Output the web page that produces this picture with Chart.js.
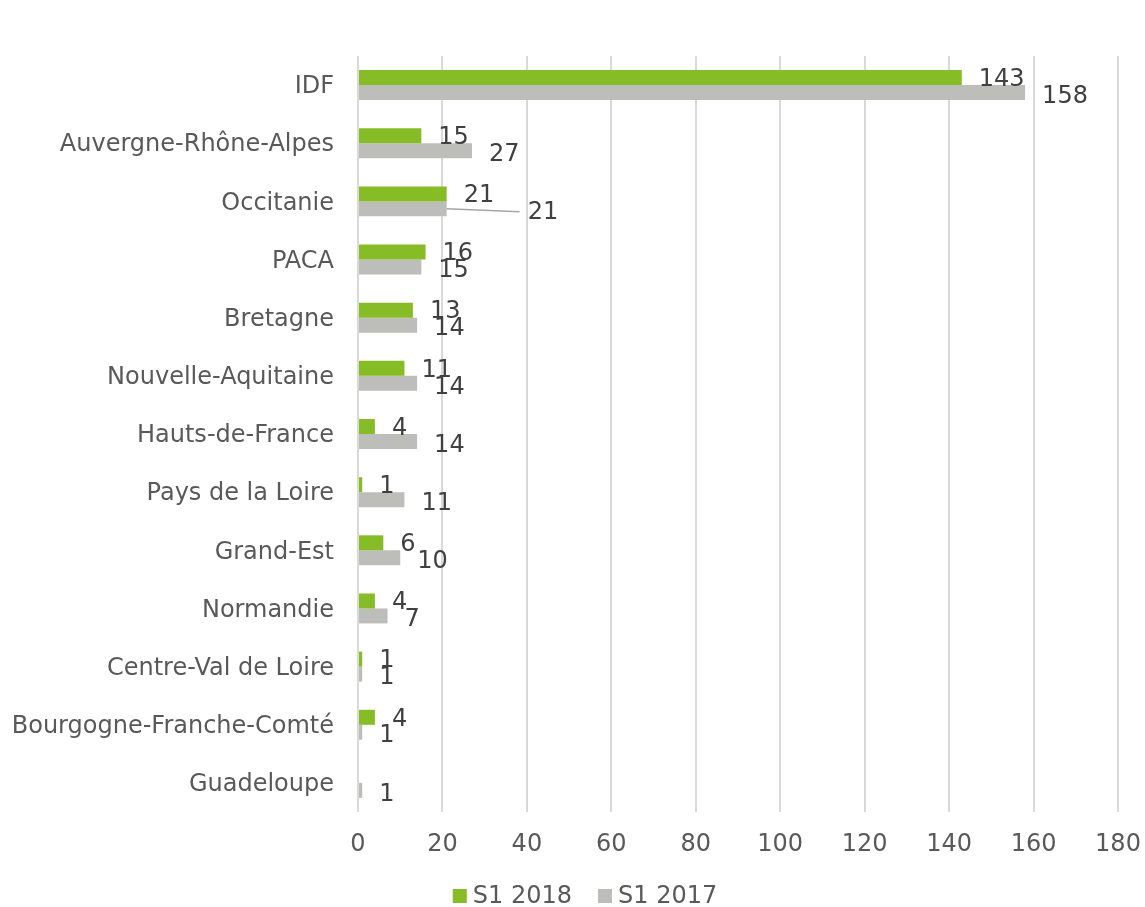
<!DOCTYPE html>
<html>
<head>
<meta charset="utf-8">
<script src="https://cdn.jsdelivr.net/npm/chart.js@4/dist/chart.umd.min.js"></script>
<style>
html,body{margin:0;padding:0;background:#fff;}
#wrap{width:1145px;height:907px;position:relative;}
</style>
</head>
<body>
<div id="wrap"><canvas id="c" width="1145" height="907"></canvas></div>
<script>
const categories = ["IDF","Auvergne-Rhône-Alpes","Occitanie","PACA","Bretagne","Nouvelle-Aquitaine","Hauts-de-France","Pays de la Loire","Grand-Est","Normandie","Centre-Val de Loire","Bourgogne-Franche-Comté","Guadeloupe"];
const s2018 = [143,15,21,16,13,11,4,1,6,4,1,4,null];
const s2017 = [158,27,21,15,14,14,14,11,10,7,1,1,1];
const seriesNames = ["S1 2018","S1 2017"];
const xTicks = [0,20,40,60,80,100,120,140,160,180];

const FONT = "DejaVu Sans";
Chart.defaults.font.family = FONT;

const labelPlugin = {
  id: 'barLabels',
  afterDatasetsDraw(chart, args, opts) {
    const ctx = chart.ctx;
    ctx.save();
    ctx.font = `24px "${FONT}"`;
    ctx.fillStyle = '#404040';
    ctx.textBaseline = 'middle';
    ctx.textAlign = 'left';
    chart.data.datasets.forEach((ds, di) => {
      const meta = chart.getDatasetMeta(di);
      meta.data.forEach((bar, i) => {
        const v = ds.data[i];
        if (v === null || v === undefined) return;
        let x = bar.x + 17;
        let y = bar.y + (di === 0 ? 2 : 4);
        const sh = (opts.shifts || []).find(s => s.ds === di && s.i === i);
        if (sh) {
          const nx = x + sh.dx, ny = y + sh.dy;
          ctx.strokeStyle = '#a6a6a6';
          ctx.lineWidth = 1.5;
          ctx.beginPath();
          ctx.moveTo(bar.x, bar.y);
          ctx.lineTo(nx - 8, ny - 1);
          ctx.stroke();
          x = nx; y = ny;
        }
        ctx.fillText(String(v), x, y);
      });
    });
    ctx.restore();
  }
};

const legendPlugin = {
  id: 'customLegend',
  afterDraw(chart, args, opts) {
    const ctx = chart.ctx;
    ctx.save();
    ctx.font = `24px "${FONT}"`;
    ctx.textBaseline = 'middle';
    ctx.textAlign = 'left';
    const items = chart.data.datasets.map(ds => ({text: ds.label, color: ds.backgroundColor, w: ctx.measureText(ds.label).width}));
    const box = 14, gap = 6, itemGap = 26;
    const total = items.reduce((a, it) => a + box + gap + it.w, 0) + itemGap * (items.length - 1);
    let x = opts.centerX - total / 2;
    const y = opts.y;
    items.forEach(it => {
      ctx.fillStyle = it.color;
      ctx.fillRect(x, y - box / 2, box, box);
      ctx.fillStyle = '#595959';
      ctx.fillText(it.text, x + box + gap, y + 1);
      x += box + gap + it.w + itemGap;
    });
    ctx.restore();
  }
};

function draw() {
  new Chart(document.getElementById('c'), {
    type: 'bar',
    data: {
      labels: categories,
      datasets: [
        {label: seriesNames[0], data: s2018, backgroundColor: '#86bc25', borderWidth: 0},
        {label: seriesNames[1], data: s2017, backgroundColor: '#bdbdb9', borderWidth: 0}
      ]
    },
    options: {
      indexAxis: 'y',
      responsive: false,
      animation: false,
      devicePixelRatio: 1,
      categoryPercentage: 0.515,
      barPercentage: 1,
      layout: {padding: {top: 56, right: 27, left: 0, bottom: 43}},
      scales: {
        x: {
          min: 0, max: 180,
          afterBuildTicks(scale) { scale.ticks = xTicks.map(v => ({value: v})); },
          afterFit(scale) { scale.height = 52; scale.paddingLeft = 0; scale.paddingRight = 0; },
          border: {display: false},
          grid: {color: '#d9d9d9', lineWidth: 2, drawTicks: false},
          ticks: {color: '#595959', font: {family: FONT, size: 24}, padding: 18}
        },
        y: {
          afterFit(scale) { scale.width = 358; },
          border: {display: false},
          grid: {display: false, drawTicks: false},
          ticks: {color: '#595959', font: {family: FONT, size: 24}, padding: 24, labelOffset: 2}
        }
      },
      plugins: {
        legend: {display: false},
        tooltip: {enabled: false},
        barLabels: {shifts: [{ds: 1, i: 2, dx: 64, dy: 0}]},
        customLegend: {centerX: 585, y: 896}
      }
    },
    plugins: [labelPlugin, legendPlugin]
  });
}

if (document.fonts && document.fonts.load) {
  document.fonts.load(`24px "${FONT}"`).then(draw, draw);
} else {
  draw();
}
</script>
</body>
</html>
